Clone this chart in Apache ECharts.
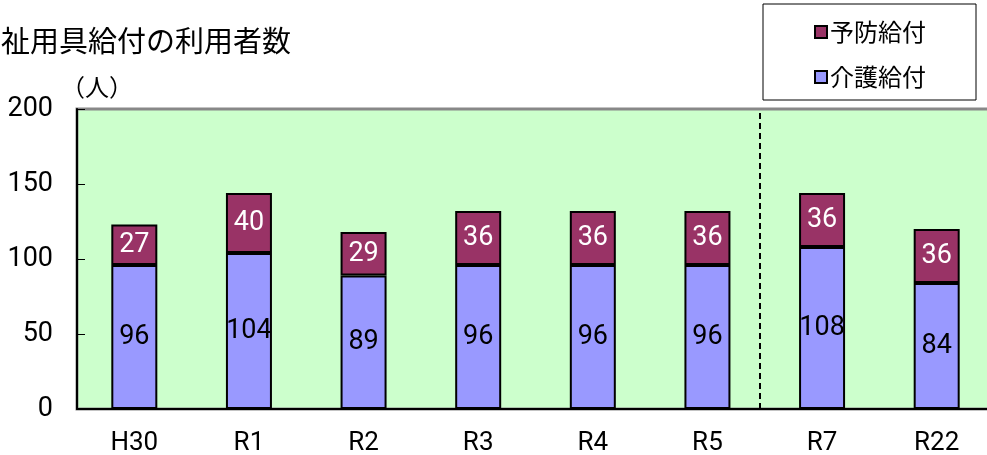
<!DOCTYPE html>
<html>
<head>
    <meta charset="utf-8">
    <title>福祉用具給付の利用者数</title>
    <style>
        html, body { margin: 0; padding: 0; background: #fff; }
    </style>
</head>
<body>
    <div id="main" style="width:987px;height:455px"></div>
    <script src="https://cdn.jsdelivr.net/npm/echarts@6/dist/echarts.min.js"></script>
    <script type="text/javascript">

        const YEARS = ['H30', 'R1', 'R2', 'R3', 'R4', 'R5', 'R7', 'R22'];
        const KAIGO = [96, 104, 89, 96, 96, 96, 108, 84];   // 介護給付
        const YOBO = [27, 40, 29, 36, 36, 36, 36, 36];      // 予防給付
        const Y_TICKS = [0, 50, 100, 150, 200];
        // 実績と推計の境目（R5 と R7 の間）
        const DIVIDER = [5.96];

        const NUM_FONT = "Roboto, 'Noto Sans', sans-serif";
        const JP_FONT = "'Noto Sans CJK JP', sans-serif";

        let myChart = echarts.init(document.getElementById('main'));

        let option = {
            animation: false,
            title: [
                {
                    text: '祉用具給付の利用者数',
                    left: -4,
                    top: 21,
                    textStyle: { fontFamily: JP_FONT, fontSize: 29, fontWeight: 'normal', color: '#000' }
                },
                {
                    text: '（人）',
                    left: 56,
                    top: 70,
                    textStyle: { fontFamily: JP_FONT, fontSize: 24, fontWeight: 'normal', color: '#000' }
                }
            ],
            legend: {
                data: ['予防給付', '介護給付'],
                orient: 'vertical',
                right: 11,
                top: 4,
                padding: [16, 50, 11, 51],
                itemGap: 21,
                itemWidth: 12,
                itemHeight: 12,
                icon: 'rect',
                borderColor: '#000',
                borderWidth: 1,
                backgroundColor: '#fff',
                textStyle: { fontFamily: JP_FONT, fontSize: 24, color: '#000', lineHeight: 24, padding: [0, 0, 0, -2] }
            },
            grid: {
                left: 77,
                top: 109,
                bottom: 46,
                right: -7,
                outerBoundsMode: 'none',
                show: true,
                backgroundColor: '#CCFFCC',
                borderColor: '#888',
                borderWidth: 3
            },
            xAxis: [
                {
                    type: 'category',
                    data: YEARS,
                    axisLine: { lineStyle: { color: '#000', width: 2 } },
                    axisTick: { inside: true, length: 5, lineStyle: { color: '#000' } },
                    axisLabel: { fontFamily: NUM_FONT, fontSize: 26, color: '#000', margin: 21 }
                },
                {
                    type: 'value',
                    min: 0,
                    max: YEARS.length,
                    show: false
                }
            ],
            yAxis: {
                type: 'value',
                min: Y_TICKS[0],
                max: Y_TICKS[Y_TICKS.length - 1],
                interval: 50,
                splitLine: { show: false },
                axisLine: { show: true, lineStyle: { color: '#000', width: 2 } },
                axisTick: { show: true, inside: true, length: 8, lineStyle: { color: '#000' } },
                axisLabel: { fontFamily: NUM_FONT, fontSize: 27, color: '#000', margin: 24 }
            },
            series: [
                {
                    name: '介護給付',
                    type: 'bar',
                    stack: 'total',
                    data: KAIGO,
                    barWidth: 46,
                    itemStyle: { color: '#9999FF', borderColor: '#000', borderWidth: 2 },
                    label: {
                        show: true,
                        position: 'inside',
                        fontFamily: NUM_FONT,
                        fontSize: 27,
                        color: '#000'
                    }
                },
                {
                    name: '予防給付',
                    type: 'bar',
                    stack: 'total',
                    data: YOBO,
                    barWidth: 46,
                    itemStyle: { color: '#993366', borderColor: '#000', borderWidth: 2 },
                    label: {
                        show: true,
                        position: 'inside',
                        fontFamily: NUM_FONT,
                        fontSize: 27,
                        color: '#fff'
                    }
                },
                {
                    name: 'divider',
                    type: 'line',
                    xAxisIndex: 1,
                    data: [],
                    silent: true,
                    markLine: {
                        symbol: 'none',
                        silent: true,
                        label: { show: false },
                        lineStyle: { color: '#000', type: [6, 4], width: 2 },
                        data: DIVIDER.map(x => ({ xAxis: x }))
                    }
                }
            ]
        };

        myChart.setOption(option);

    </script>
</body>
</html>
